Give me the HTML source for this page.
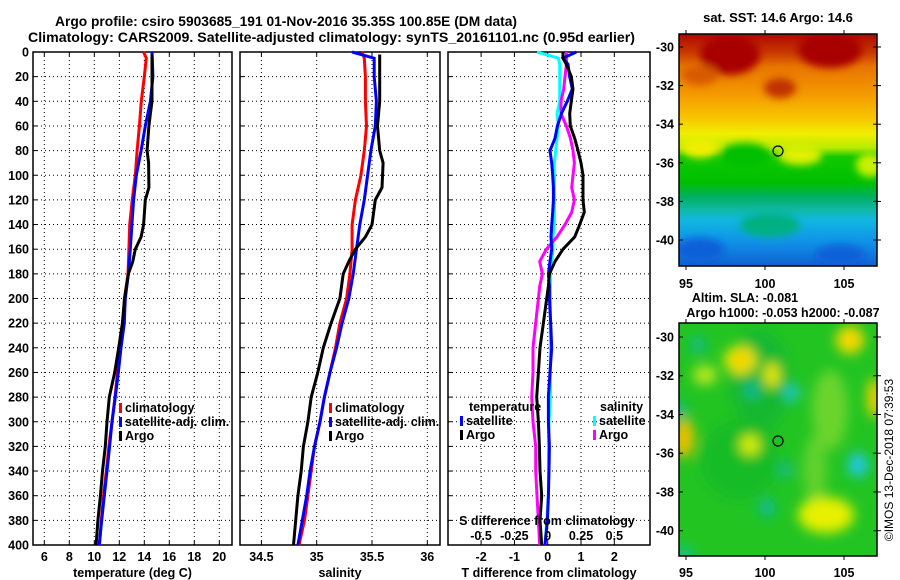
<!DOCTYPE html>
<html><head><meta charset="utf-8">
<style>
html,body{margin:0;padding:0;background:#fff;}
svg{display:block;font-family:"Liberation Sans",sans-serif;font-weight:bold;}
</style></head>
<body>
<svg id="fig" width="900" height="580" viewBox="0 0 900 580" xmlns="http://www.w3.org/2000/svg">
<defs>
<linearGradient id="sstGrad" x1="0" y1="0" x2="0" y2="1">
<stop offset="0" stop-color="#b00800"/>
<stop offset="0.08" stop-color="#c83800"/>
<stop offset="0.14" stop-color="#e87400"/>
<stop offset="0.26" stop-color="#f49a00"/>
<stop offset="0.36" stop-color="#f8c400"/>
<stop offset="0.43" stop-color="#f0ee00"/>
<stop offset="0.49" stop-color="#b8ec00"/>
<stop offset="0.53" stop-color="#10c800"/>
<stop offset="0.64" stop-color="#00c000"/>
<stop offset="0.70" stop-color="#00b060"/>
<stop offset="0.76" stop-color="#10b8a8"/>
<stop offset="0.80" stop-color="#10b8e0"/>
<stop offset="0.90" stop-color="#1090e8"/>
<stop offset="1" stop-color="#1060d0"/>
</linearGradient>
<filter id="blur6"><feGaussianBlur stdDeviation="6"/></filter>
<filter id="blur4"><feGaussianBlur stdDeviation="4"/></filter>
<clipPath id="clipTop"><rect x="679" y="34" width="198" height="232"/></clipPath>
<clipPath id="clipBot"><rect x="679" y="323" width="198" height="233"/></clipPath>
</defs>

<text x="55" y="26" font-size="14" textLength="462" lengthAdjust="spacingAndGlyphs">Argo profile: csiro 5903685_191 01-Nov-2016 35.35S 100.85E (DM data)</text>
<text x="28" y="42" font-size="14" textLength="607" lengthAdjust="spacingAndGlyphs">Climatology: CARS2009. Satellite-adjusted climatology: synTS_20161101.nc (0.95d earlier)</text>

<g id="plots"></g>

<!-- SST map -->
<g>
<text x="778" y="22" font-size="13" text-anchor="middle">sat. SST: 14.6 Argo: 14.6</text>
<g clip-path="url(#clipTop)">
<rect x="679" y="34" width="198" height="232" fill="url(#sstGrad)"/>
<g filter="url(#blur4)">
<ellipse cx="730" cy="55" rx="30" ry="20" fill="#a80000"/>
<ellipse cx="830" cy="50" rx="32" ry="18" fill="#a80000"/>
<ellipse cx="780" cy="88" rx="16" ry="10" fill="#c03000"/>
<ellipse cx="700" cy="75" rx="18" ry="10" fill="#d85a00"/>
<ellipse cx="700" cy="148" rx="18" ry="10" fill="#f0ee00"/>
<ellipse cx="800" cy="155" rx="22" ry="10" fill="#e0f000"/>
<ellipse cx="870" cy="165" rx="14" ry="12" fill="#c8f000"/>
<ellipse cx="745" cy="155" rx="25" ry="12" fill="#00c000"/>
<ellipse cx="770" cy="225" rx="30" ry="12" fill="#00b080"/>
<ellipse cx="700" cy="250" rx="25" ry="12" fill="#1060d8"/>
<ellipse cx="840" cy="255" rx="25" ry="10" fill="#1060d8"/>
</g>
</g>
<rect x="679" y="34" width="198" height="232" fill="none" stroke="#000" stroke-width="1.5"/>
<circle cx="778" cy="151" r="5" fill="none" stroke="#000" stroke-width="1.2"/>
<g id="sstAxes"></g>
</g>

<!-- SLA map -->
<g>
<text x="745" y="302" font-size="12.5" text-anchor="middle">Altim. SLA: -0.081</text>
<text x="783" y="317" font-size="12.5" text-anchor="middle">Argo h1000: -0.053 h2000: -0.087</text>
<g clip-path="url(#clipBot)">
<rect x="679" y="323" width="198" height="233" fill="#22c422"/>
<g filter="url(#blur6)">
<ellipse cx="760" cy="380" rx="30" ry="50" fill="#14b830"/>
<ellipse cx="740" cy="460" rx="40" ry="40" fill="#18bc28"/>
<ellipse cx="830" cy="410" rx="18" ry="40" fill="#7cd830" opacity="0.8"/>
<ellipse cx="815" cy="470" rx="12" ry="35" fill="#70d430" opacity="0.8"/>
<ellipse cx="740" cy="360" rx="16" ry="14" fill="#f0e800"/>
<ellipse cx="740" cy="360" rx="8" ry="7" fill="#f8c800"/>
<ellipse cx="850" cy="340" rx="14" ry="14" fill="#f8d800"/>
<ellipse cx="772" cy="375" rx="8" ry="12" fill="#e8e800"/>
<ellipse cx="684" cy="438" rx="10" ry="20" fill="#f0c000"/>
<ellipse cx="875" cy="398" rx="8" ry="20" fill="#f0d000"/>
<ellipse cx="826" cy="515" rx="28" ry="18" fill="#e8f000"/>
<ellipse cx="750" cy="445" rx="10" ry="10" fill="#d8f000"/>
<ellipse cx="705" cy="375" rx="12" ry="10" fill="#b8e820"/>
<ellipse cx="858" cy="465" rx="10" ry="12" fill="#20c8e8"/>
<ellipse cx="792" cy="393" rx="8" ry="8" fill="#20c8c8"/>
<ellipse cx="698" cy="345" rx="7" ry="8" fill="#10b8a0"/>
<ellipse cx="752" cy="390" rx="7" ry="7" fill="#10b8a0"/>
<ellipse cx="767" cy="508" rx="8" ry="9" fill="#10b8a0"/>
<ellipse cx="786" cy="470" rx="6" ry="7" fill="#10b8a0"/>
<ellipse cx="684" cy="554" rx="8" ry="6" fill="#10c0c0"/>
<ellipse cx="680" cy="410" rx="6" ry="8" fill="#10b8a0"/>
</g>
</g>
<rect x="679" y="323" width="198" height="233" fill="none" stroke="#000" stroke-width="1.5"/>
<circle cx="778" cy="441" r="5" fill="none" stroke="#000" stroke-width="1.2"/>
<g id="slaAxes"></g>
</g>

<text transform="translate(893,460) rotate(-90)" font-size="12" font-weight="normal" text-anchor="middle">©IMOS 13-Dec-2018 07:39:53</text>
</svg>

<script>
// ---------- data ----------
const depthTicks = [0,20,40,60,80,100,120,140,160,180,200,220,240,260,280,300,320,340,360,380,400];
const tempTicks = [6,8,10,12,14,16,18,20];
const salTicks = [34.5,35,35.5,36];
const tDiffTicks = [-2,-1,0,1,2];
const sDiffTicks = [-0.5,-0.25,0,0.25,0.5];
const sDiffTickLabels = ["-0.5","-0.25","0","0.25","0.5"];
const latTicks = [-30,-32,-34,-36,-38,-40];
const lonTicks = [95,100,105];

const climDepth = [0,5,20,40,60,80,100,120,140,160,180,200,220,240,260,280,300,320,340,360,380,400];
const tClim = [13.94,14.16,14.0,13.76,13.61,13.42,13.28,13.03,12.83,12.77,12.70,12.42,12.34,12.08,11.86,11.66,11.42,11.17,10.96,10.74,10.56,10.42];
const tSatAdj = [14.62,14.64,14.69,14.49,14.08,13.74,13.36,13.14,13.01,12.88,12.73,12.48,12.40,12.14,11.92,11.68,11.42,11.22,11.02,10.80,10.59,10.39];
const sClim = [35.41,35.43,35.44,35.44,35.45,35.43,35.40,35.35,35.32,35.32,35.30,35.27,35.21,35.17,35.12,35.07,35.03,34.98,34.95,34.92,34.89,34.84];
const sSatAdj = [35.32,35.52,35.52,35.54,35.53,35.49,35.46,35.43,35.39,35.36,35.33,35.29,35.23,35.18,35.12,35.07,35.03,34.98,34.94,34.91,34.87,34.83];

const argoDepth = [2,40,50,60,80,90,110,120,140,150,160,170,180,200,220,240,260,280,300,320,340,360,380,400];
const tArgo = [14.62,14.62,14.49,14.37,14.22,14.34,14.37,14.08,13.94,13.74,13.28,13.08,12.73,12.42,12.25,11.95,11.63,11.20,11.02,10.88,10.66,10.49,10.29,10.14];
const sArgo = [35.57,35.57,35.56,35.55,35.57,35.60,35.59,35.53,35.50,35.44,35.35,35.29,35.24,35.21,35.13,35.06,35.01,34.95,34.92,34.88,34.86,34.83,34.81,34.79];

const diffDepth = [0,5,10,20,30,40,50,60,70,80,90,100,110,120,130,140,150,160,170,180,190,200,220,240,260,280,300,320,340,360,380,400];
const tDiffSat = [0.86,0.46,0.61,0.66,0.74,0.59,0.41,0.29,0.22,0.07,0.12,0.15,0.17,0.17,0.15,0.12,0.10,0.12,0.07,0.02,0.05,0.05,0.09,0.12,0.07,0.02,0.02,0.05,0.04,0.02,-0.01,-0.08];
const tDiffArgo = [0.46,0.46,0.56,0.71,0.76,0.71,0.66,0.68,0.81,0.91,1.0,1.06,1.06,1.06,1.1,0.96,0.81,0.46,0.22,0.05,0.02,-0.03,-0.13,-0.23,-0.28,-0.33,-0.28,-0.25,-0.23,-0.18,-0.23,-0.18];
const sDiffSat = [-0.08,0.08,0.09,0.09,0.09,0.09,0.07,0.08,0.07,0.06,0.05,0.05,0.05,0.05,0.05,0.05,0.04,0.04,0.03,0.02,0.02,0.02,0.02,0.02,0.02,0.02,0.01,0.005,0.007,0.005,-0.007,-0.02];
const sDiffArgo = [0.14,0.14,0.14,0.13,0.12,0.10,0.10,0.14,0.17,0.19,0.2,0.19,0.18,0.2,0.18,0.13,0.07,-0.01,-0.06,-0.04,-0.06,-0.07,-0.09,-0.11,-0.11,-0.12,-0.11,-0.09,-0.09,-0.08,-0.07,-0.06];

// ---------- axes ----------
const TOP = 52, BOT = 545;
const yD = d => TOP + d * (BOT - TOP) / 400;
const xT = t => 44.3 + (t - 6) * 12.5;
const xS = s => 316.7 + (s - 35) * 110.6;
const xDT = v => 547.7 + v * 33.3;
const xDS = v => 547.7 + v * 133.3;
const mapLon = l => 686 + (l - 95) * 15.8;
const latTop = l => 47 + (-30 - l) * 19.3;
const latBot = l => 337 + (-30 - l) * 19.37;

const NS = "http://www.w3.org/2000/svg";
const root = document.getElementById("plots");
function mk(tag, attrs, parent, text) {
  const e = document.createElementNS(NS, tag);
  for (const k in attrs) e.setAttribute(k, attrs[k]);
  if (text !== undefined) e.textContent = text;
  (parent || root).appendChild(e);
  return e;
}

const panels = [
  {name: "temperature-panel", x0: 33, x1: 232, ticks: tempTicks, xf: xT, labels: tempTicks.map(String), xlabel: "temperature (deg C)"},
  {name: "salinity-panel", x0: 240, x1: 440, ticks: salTicks, xf: xS, labels: ["34.5","35","35.5","36"], xlabel: "salinity"},
  {name: "difference-panel", x0: 448, x1: 650, ticks: tDiffTicks, xf: xDT, labels: tDiffTicks.map(String), xlabel: "T difference from climatology"}
];

panels.forEach((p, pi) => {
  const g = mk("g", {});
  
  
  depthTicks.forEach(d => {
    if (d === 0 || d === 400) return;
    const l = mk("line", {x1: p.x0, x2: p.x1, y1: yD(d), y2: yD(d), stroke: "#000", "stroke-width": 1, "stroke-dasharray": "1,3"}, g);
    
    
  });
  p.ticks.forEach((t, i) => {
    const x = p.xf(t);
    const l = mk("line", {x1: x, x2: x, y1: TOP, y2: BOT, stroke: "#000", "stroke-width": 1, "stroke-dasharray": "1,3"}, g);
    
    
    mk("line", {x1: x, x2: x, y1: BOT, y2: BOT - 4, stroke: "#000"}, g);
    mk("line", {x1: x, x2: x, y1: TOP, y2: TOP + 4, stroke: "#000"}, g);
    const tx = mk("text", {x: x, y: 561, "font-size": 12.5, "text-anchor": "middle"}, g, p.labels[i]);
    
    
  });
  const xl = mk("text", {x: (p.x0 + p.x1) / 2, y: 577, "font-size": 12.5, "text-anchor": "middle"}, g, p.xlabel);
  
  
  const fr = mk("rect", {x: p.x0, y: TOP, width: p.x1 - p.x0, height: BOT - TOP, fill: "none", stroke: "#000", "stroke-width": 1.5}, g);
  
  
  p.g = g;
});

depthTicks.forEach(d => {
  const t = mk("text", {x: 29, y: yD(d) + 4.5, "font-size": 12.5, "text-anchor": "end"}, root, String(d));
  
  
  [33, 240, 448].forEach(x0 => mk("line", {x1: x0, x2: x0 + 4, y1: yD(d), y2: yD(d), stroke: "#000"}));
});

const sdTitle = mk("text", {x: 547, y: 525, "font-size": 12.5, "text-anchor": "middle"}, root, "S difference from climatology");


sDiffTicks.forEach((v, i) => {
  const t = mk("text", {x: xDS(v), y: 540, "font-size": 12.5, "text-anchor": "middle"}, root, sDiffTickLabels[i]);
  
  
});

function series(name, depths, vals, xf, color, parent) {
  const pts = vals.map((v, i) => xf(v).toFixed(1) + "," + yD(depths[i]).toFixed(1)).join(" ");
  const pl = mk("polyline", {points: pts, fill: "none", stroke: color, "stroke-width": 3, "stroke-linejoin": "miter"}, parent);
  
  
}
series("temperature-climatology-line", climDepth, tClim, xT, "#ff0000", panels[0].g);
series("temperature-satellite-adj-line", climDepth, tSatAdj, xT, "#0000ff", panels[0].g);
series("temperature-argo-line", argoDepth, tArgo, xT, "#000000", panels[0].g);
series("salinity-climatology-line", climDepth, sClim, xS, "#ff0000", panels[1].g);
series("salinity-satellite-adj-line", climDepth, sSatAdj, xS, "#0000ff", panels[1].g);
series("salinity-argo-line", argoDepth, sArgo, xS, "#000000", panels[1].g);
series("s-diff-satellite-line", diffDepth, sDiffSat, xDS, "#00ffff", panels[2].g);
series("s-diff-argo-line", diffDepth, sDiffArgo, xDS, "#ff00ff", panels[2].g);
series("t-diff-satellite-line", diffDepth, tDiffSat, xDT, "#0000ff", panels[2].g);
series("t-diff-argo-line", diffDepth, tDiffArgo, xDT, "#000000", panels[2].g);

function legendEntry(name, x, y, color, label) {
  const g = mk("g", {});
  
  
  mk("rect", {x: x, y: y - 9, width: 3, height: 10, fill: color}, g);
  mk("text", {x: x + 6, y: y, "font-size": 12.5}, g, label);
}
legendEntry("legend-entry-climatology", 119, 412, "#ff0000", "climatology");
legendEntry("legend-entry-satellite-adj", 119, 426, "#0000ff", "satellite-adj. clim.");
legendEntry("legend-entry-argo", 119, 440, "#000000", "Argo");
legendEntry("legend-entry-climatology", 329, 412, "#ff0000", "climatology");
legendEntry("legend-entry-satellite-adj", 329, 426, "#0000ff", "satellite-adj. clim.");
legendEntry("legend-entry-argo", 329, 440, "#000000", "Argo");
const lt = mk("text", {x: 469, y: 411, "font-size": 12.5}, root, "temperature");


legendEntry("legend-entry-t-satellite", 460, 425, "#0000ff", "satellite");
legendEntry("legend-entry-t-argo", 460, 439, "#000000", "Argo");
const ls = mk("text", {x: 600, y: 411, "font-size": 12.5}, root, "salinity");


legendEntry("legend-entry-s-satellite", 593, 425, "#00ffff", "satellite");
legendEntry("legend-entry-s-argo", 593, 439, "#ff00ff", "Argo");

function mapAxes(gid, latf, y0, y1, lonLabelY) {
  const g = document.getElementById(gid);
  latTicks.forEach(l => {
    const y = latf(l);
    mk("line", {x1: 679, x2: 683, y1: y, y2: y, stroke: "#000"}, g);
    mk("line", {x1: 877, x2: 873, y1: y, y2: y, stroke: "#000"}, g);
    mk("line", {x1: 877, x2: 881, y1: y, y2: y, stroke: "#000"}, g);
    const t = mk("text", {x: 674, y: y + 4.5, "font-size": 12.5, "text-anchor": "end"}, g, String(l));
    
    
  });
  lonTicks.forEach(l => {
    const x = mapLon(l);
    mk("line", {x1: x, x2: x, y1: y1, y2: y1 + 4, stroke: "#000"}, g);
    mk("line", {x1: x, x2: x, y1: y0, y2: y0 - 4, stroke: "#000"}, g);
    const t = mk("text", {x: x, y: lonLabelY, "font-size": 12.5, "text-anchor": "middle"}, g, String(l));
    
    
  });
}
mapAxes("sstAxes", latTop, 34, 266, 288);
mapAxes("slaAxes", latBot, 323, 556, 577);
</script>
</body></html>
